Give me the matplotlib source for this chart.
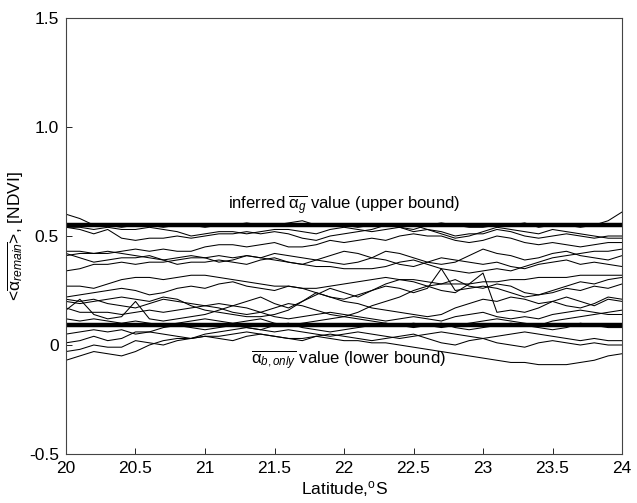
import numpy as np
import matplotlib
matplotlib.use("Agg")
import matplotlib.pyplot as plt

plt.rcParams['font.family'] = ['Liberation Sans', 'DejaVu Sans']
plt.rcParams['mathtext.fontset'] = 'custom'
plt.rcParams['mathtext.rm'] = 'Liberation Sans'
plt.rcParams['mathtext.it'] = 'Liberation Sans:italic'
plt.rcParams['mathtext.bf'] = 'Liberation Sans:bold'

latitude = np.round(np.arange(20.0, 24.01, 0.1), 1)

upper_bound = 0.55
lower_bound = 0.09

s01 = [0.60,0.58,0.55,0.55,0.54,0.55,0.55,0.54,0.55,0.55,0.54,0.55,0.55,0.56,0.55,0.55,0.56,0.57,0.55,0.55,0.55,0.54,0.55,0.55,0.54,0.53,0.55,0.56,0.55,0.54,0.54,0.55,0.55,0.56,0.54,0.55,0.55,0.54,0.55,0.57,0.61]
s02 = [0.54,0.53,0.51,0.53,0.49,0.48,0.49,0.49,0.50,0.49,0.50,0.51,0.51,0.52,0.51,0.52,0.51,0.49,0.48,0.50,0.51,0.52,0.53,0.55,0.54,0.52,0.53,0.52,0.50,0.51,0.51,0.53,0.52,0.50,0.49,0.50,0.51,0.50,0.49,0.50,0.50]
s03 = [0.54,0.54,0.53,0.54,0.53,0.53,0.54,0.53,0.52,0.50,0.51,0.52,0.52,0.51,0.52,0.53,0.53,0.52,0.51,0.53,0.54,0.53,0.52,0.53,0.54,0.55,0.53,0.51,0.49,0.50,0.52,0.54,0.53,0.52,0.51,0.53,0.52,0.51,0.50,0.49,0.49]
s04 = [0.43,0.43,0.42,0.42,0.43,0.44,0.43,0.44,0.43,0.43,0.45,0.46,0.46,0.45,0.46,0.47,0.45,0.45,0.46,0.48,0.47,0.48,0.49,0.48,0.50,0.51,0.50,0.50,0.48,0.47,0.48,0.50,0.49,0.47,0.46,0.47,0.46,0.45,0.46,0.47,0.47]
s05 = [0.42,0.40,0.38,0.39,0.40,0.40,0.41,0.39,0.40,0.41,0.40,0.38,0.39,0.41,0.40,0.42,0.41,0.40,0.39,0.38,0.37,0.38,0.40,0.43,0.42,0.40,0.38,0.37,0.38,0.41,0.44,0.42,0.41,0.39,0.40,0.42,0.43,0.41,0.40,0.39,0.41]
s06 = [0.41,0.42,0.42,0.43,0.42,0.41,0.40,0.39,0.37,0.38,0.38,0.39,0.38,0.37,0.39,0.40,0.38,0.37,0.39,0.41,0.43,0.42,0.40,0.39,0.37,0.36,0.38,0.40,0.39,0.38,0.37,0.38,0.36,0.35,0.37,0.38,0.39,0.37,0.38,0.37,0.36]
s07 = [0.34,0.35,0.37,0.37,0.38,0.37,0.38,0.38,0.39,0.40,0.40,0.41,0.40,0.41,0.40,0.39,0.38,0.37,0.36,0.36,0.35,0.35,0.35,0.36,0.38,0.39,0.37,0.35,0.34,0.33,0.34,0.35,0.34,0.36,0.38,0.40,0.41,0.42,0.43,0.43,0.44]
s08 = [0.27,0.27,0.26,0.28,0.30,0.31,0.31,0.30,0.31,0.32,0.32,0.31,0.30,0.29,0.28,0.27,0.27,0.26,0.26,0.27,0.28,0.29,0.30,0.31,0.30,0.30,0.29,0.28,0.28,0.28,0.29,0.29,0.30,0.30,0.31,0.31,0.31,0.32,0.32,0.32,0.32]
s09 = [0.22,0.23,0.24,0.25,0.26,0.25,0.23,0.24,0.26,0.27,0.26,0.28,0.29,0.27,0.26,0.25,0.27,0.26,0.24,0.22,0.21,0.23,0.25,0.28,0.30,0.29,0.27,0.28,0.30,0.27,0.26,0.28,0.27,0.24,0.23,0.25,0.27,0.29,0.28,0.30,0.31]
s10 = [0.16,0.21,0.14,0.12,0.13,0.20,0.12,0.11,0.12,0.13,0.14,0.16,0.18,0.20,0.22,0.19,0.17,0.20,0.23,0.26,0.24,0.22,0.25,0.27,0.26,0.24,0.26,0.35,0.25,0.26,0.27,0.26,0.24,0.22,0.23,0.24,0.26,0.25,0.27,0.26,0.28]
s11 = [0.21,0.20,0.21,0.19,0.18,0.17,0.19,0.21,0.20,0.19,0.18,0.17,0.15,0.14,0.15,0.17,0.19,0.18,0.16,0.14,0.13,0.15,0.18,0.20,0.22,0.25,0.27,0.25,0.24,0.28,0.33,0.15,0.16,0.15,0.17,0.20,0.18,0.17,0.19,0.22,0.21]
s12 = [0.20,0.19,0.20,0.21,0.22,0.21,0.20,0.22,0.21,0.18,0.16,0.15,0.14,0.13,0.13,0.14,0.16,0.20,0.24,0.22,0.20,0.19,0.17,0.16,0.15,0.14,0.13,0.14,0.17,0.19,0.21,0.20,0.22,0.21,0.19,0.20,0.22,0.20,0.18,0.21,0.20]
s13 = [0.17,0.15,0.15,0.15,0.14,0.15,0.16,0.15,0.16,0.17,0.18,0.19,0.18,0.17,0.15,0.13,0.12,0.13,0.14,0.15,0.14,0.13,0.12,0.11,0.12,0.13,0.12,0.11,0.13,0.14,0.15,0.13,0.12,0.13,0.12,0.14,0.15,0.16,0.15,0.14,0.14]
s14 = [0.12,0.11,0.12,0.11,0.10,0.11,0.10,0.09,0.10,0.11,0.12,0.11,0.10,0.11,0.12,0.10,0.09,0.10,0.11,0.12,0.13,0.12,0.11,0.10,0.09,0.10,0.09,0.08,0.09,0.10,0.11,0.12,0.11,0.10,0.09,0.11,0.12,0.13,0.14,0.15,0.16]
s15 = [0.05,0.06,0.07,0.06,0.07,0.05,0.06,0.08,0.09,0.08,0.07,0.08,0.09,0.08,0.07,0.09,0.10,0.08,0.07,0.06,0.07,0.08,0.09,0.10,0.09,0.08,0.09,0.10,0.08,0.07,0.08,0.09,0.10,0.09,0.08,0.07,0.08,0.10,0.09,0.08,0.08]
s16 = [0.01,0.02,0.04,0.02,0.03,0.06,0.06,0.05,0.04,0.03,0.05,0.06,0.07,0.08,0.07,0.06,0.07,0.06,0.05,0.04,0.05,0.06,0.05,0.04,0.03,0.04,0.05,0.06,0.05,0.04,0.03,0.04,0.05,0.06,0.05,0.04,0.03,0.02,0.03,0.02,0.02]
s17 = [-0.03,-0.02,0.00,-0.01,-0.01,0.02,0.01,0.00,0.02,0.03,0.04,0.03,0.02,0.04,0.05,0.04,0.03,0.02,0.04,0.05,0.04,0.03,0.02,0.03,0.04,0.05,0.03,0.01,0.00,0.02,0.03,0.01,0.00,-0.01,0.01,0.02,0.01,0.00,0.01,0.00,0.00]
s18 = [-0.07,-0.05,-0.03,-0.04,-0.05,-0.03,0.00,0.02,0.03,0.03,0.04,0.04,0.05,0.06,0.05,0.04,0.03,0.03,0.04,0.03,0.02,0.02,0.01,0.01,0.00,-0.01,-0.02,-0.03,-0.04,-0.05,-0.06,-0.07,-0.08,-0.08,-0.09,-0.09,-0.09,-0.08,-0.07,-0.05,-0.04]

profiles = [s01, s02, s03, s04, s05, s06, s07, s08, s09,
            s10, s11, s12, s13, s14, s15, s16, s17, s18]

xticks = [20, 20.5, 21, 21.5, 22, 22.5, 23, 23.5, 24]
xticklabels = ['20', '20.5', '21', '21.5', '22', '22.5', '23', '23.5', '24']
yticks = [-0.5, 0, 0.5, 1.0, 1.5]
yticklabels = ['-0.5', '0', '0.5', '1.0', '1.5']

fig = plt.figure(figsize=(6.37, 5.03), dpi=100)
ax = fig.add_axes([0.1036, 0.0974, 0.8729, 0.8668])

for prof in profiles:
    ax.plot(latitude, prof, color='black', lw=0.75)

ax.axhline(upper_bound, color='black', lw=3.2)
ax.axhline(lower_bound, color='black', lw=3.2)

ax.text(22.0, 0.585, r'inferred $\overline{\mathrm{\alpha}_g}$ value (upper bound)',
        ha='center', va='bottom', fontsize=12)
ax.text(22.03, -0.015, r'$\overline{\mathrm{\alpha}_{b,only}}$ value (lower bound)',
        ha='center', va='top', fontsize=12)

ax.set_xlim(20, 24)
ax.set_ylim(-0.5, 1.5)
ax.set_xticks(xticks)
ax.set_xticklabels(xticklabels)
ax.set_yticks(yticks)
ax.set_yticklabels(yticklabels)
ax.tick_params(direction='in', length=4, width=0.6, labelsize=12.5, pad=5)
for sp in ax.spines.values():
    sp.set_linewidth(0.8)
    sp.set_color('#444444')

ax.set_xlabel(r'Latitude,$^{\mathrm{o}}$S', fontsize=12.5, labelpad=2)
ax.set_ylabel(r'<$\overline{\mathrm{\alpha}_{remain}}$>, [NDVI]', fontsize=12.5, labelpad=2)

fig.savefig('out.png', dpi=100)
